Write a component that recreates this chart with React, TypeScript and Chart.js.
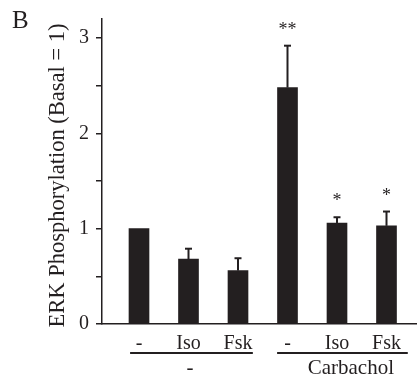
import React, { useEffect, useRef } from 'react';
import { Chart, registerables } from 'chart.js';

Chart.register(...registerables);

const categories = ['-', 'Iso', 'Fsk', '-', 'Iso', 'Fsk'];
const positions = [1, 2, 3, 4, 5, 6];
const values = [1.0, 0.68, 0.56, 2.48, 1.06, 1.03];
const errors = [0, 0.11, 0.13, 0.44, 0.06, 0.15];
const stars = ['', '', '', '**', '*', '*'];
const groupLabels = ['-', 'Carbachol'];
const groupStart = [0.82, 3.79];
const groupEnd = [3.3, 6.43];
const groupLabelPos = [2.03, 5.28];
const yTickValues = [0, 0.5, 1, 1.5, 2, 2.5, 3];
const yTitle = 'ERK Phosphorylation (Basal = 1)';
const panelLabel = 'B';

const INK = '#231f20';
const FONT = '"Liberation Serif", "Times New Roman", serif';

const annotations = {
  id: 'annotations',
  afterDatasetsDraw(chart: any) {
    const ctx = chart.ctx;
    const xs = chart.scales.x;
    const ys = chart.scales.y;
    ctx.save();
    ctx.strokeStyle = INK;
    ctx.fillStyle = INK;
    values.forEach((v, i) => {
      const e = errors[i];
      const px = xs.getPixelForValue(positions[i]);
      const top = ys.getPixelForValue(v + e);
      if (e > 0) {
        ctx.lineWidth = 2;
        ctx.beginPath();
        ctx.moveTo(px, ys.getPixelForValue(v));
        ctx.lineTo(px, top);
        ctx.stroke();
        ctx.beginPath();
        ctx.moveTo(px - 3.5, top);
        ctx.lineTo(px + 3.5, top);
        ctx.stroke();
      }
      if (stars[i]) {
        ctx.font = `18px ${FONT}`;
        ctx.textAlign = 'center';
        ctx.textBaseline = 'alphabetic';
        ctx.fillText(stars[i], px, top - 11);
      }
    });
    // group lines and labels
    const lineY = 353;
    groupLabels.forEach((lab, i) => {
      ctx.lineWidth = 2;
      ctx.beginPath();
      ctx.moveTo(xs.getPixelForValue(groupStart[i]), lineY);
      ctx.lineTo(xs.getPixelForValue(groupEnd[i]), lineY);
      ctx.stroke();
      ctx.font = `21px ${FONT}`;
      ctx.textAlign = 'center';
      ctx.textBaseline = 'alphabetic';
      ctx.fillText(lab, xs.getPixelForValue(groupLabelPos[i]), 374);
    });
    // y title
    ctx.save();
    ctx.translate(64, (ys.top + ys.bottom) / 2 + 4);
    ctx.rotate(-Math.PI / 2);
    ctx.font = `22.5px ${FONT}`;
    ctx.textAlign = 'center';
    ctx.textBaseline = 'alphabetic';
    ctx.fillText(yTitle, 0, 0);
    ctx.restore();
    // panel label
    ctx.font = `25px ${FONT}`;
    ctx.textAlign = 'left';
    ctx.textBaseline = 'alphabetic';
    ctx.fillText(panelLabel, 12, 28);
    ctx.restore();
  },
};

export default function App() {
  const ref = useRef<HTMLCanvasElement>(null);
  useEffect(() => {
    if (!ref.current) return;
    const chart = new Chart(ref.current, {
      type: 'bar',
      data: {
        datasets: [
          {
            data: positions.map((p, i) => ({ x: p, y: values[i] })),
            backgroundColor: INK,
            borderWidth: 0,
            barThickness: 20,
          },
        ],
      },
      options: {
        responsive: false,
        animation: false,
        layout: { padding: { top: 10, right: 3, left: 0, bottom: 0 } },
        plugins: { legend: { display: false }, tooltip: { enabled: false } },
        scales: {
          x: {
            type: 'linear',
            offset: false,
            min: 0.2525,
            max: 6.596,
            afterBuildTicks: (scale: any) => {
              scale.ticks = positions.map((v) => ({ value: v }));
            },
            afterFit: (scale: any) => {
              scale.height = 53;
            },
            grid: { display: false, offset: false },
            border: { display: true, color: INK, width: 1.5 },
            ticks: {
              autoSkip: false,
              maxRotation: 0,
              padding: 0,
              color: INK,
              font: { family: FONT, size: 20 },
              callback: (value: any) => {
                const idx = positions.indexOf(Number(value));
                return idx >= 0 ? categories[idx] : '';
              },
            },
          },
          y: {
            min: 0,
            max: 3.2,
            afterBuildTicks: (scale: any) => {
              scale.ticks = yTickValues.map((v) => ({ value: v }));
            },
            afterFit: (scale: any) => {
              scale.width = 102;
            },
            grid: {
              drawOnChartArea: false,
              drawTicks: true,
              tickLength: 6,
              color: INK,
              lineWidth: 1.5,
            },
            border: { display: true, color: INK, width: 1.5 },
            ticks: {
              padding: 7,
              color: INK,
              font: { family: FONT, size: 20 },
              callback: (value: any) => (Number.isInteger(Number(value)) ? String(value) : ''),
            },
          },
        },
      },
      plugins: [annotations],
    });
    return () => chart.destroy();
  }, []);
  return (
    <div style={{ position: 'absolute', left: 0, top: 0, width: 419, height: 377, background: '#fff' }}>
      <canvas ref={ref} width={419} height={377} style={{ display: 'block' }} />
    </div>
  );
}
